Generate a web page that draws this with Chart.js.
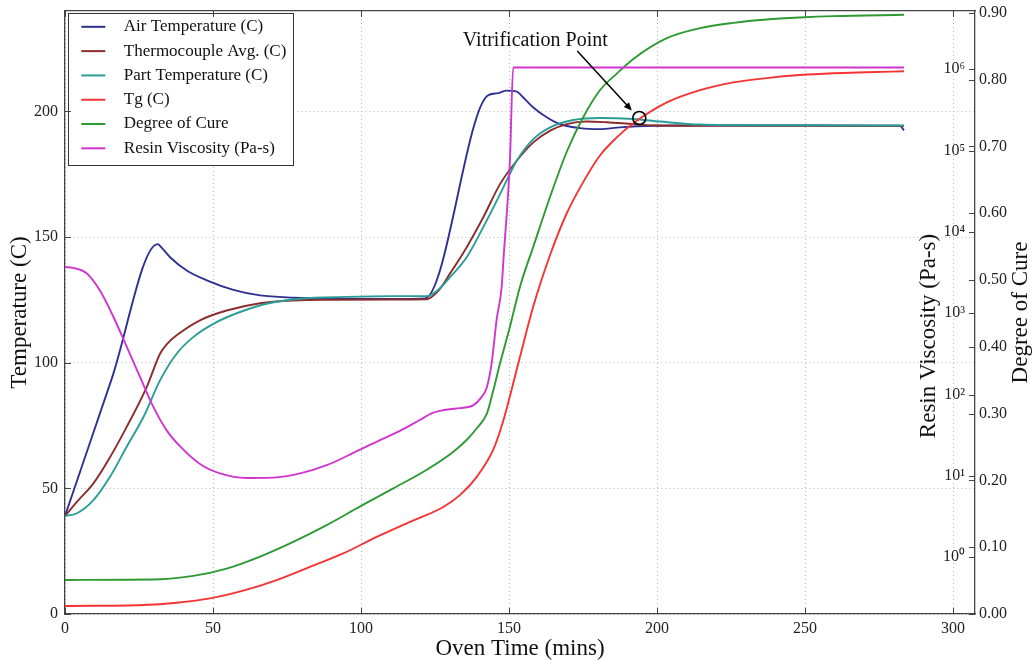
<!DOCTYPE html>
<html><head><meta charset="utf-8">
<script src="https://cdn.jsdelivr.net/npm/chart.js@4.4.0/dist/chart.umd.min.js"></script>
<style>html,body{margin:0;padding:0;background:#fff;}#wrap{width:1036px;height:660px;}</style>
</head><body><div id="wrap"><canvas id="c" width="1036" height="660"></canvas></div>
<script>
// ---- data ----
const AIR_TIME = [0, 15.6, 31.3, 33, 35.5, 41.1, 47.9, 56.9, 65.9, 77.1, 90, 110, 121.6, 142.7, 145.8, 149.2, 152.4, 154.8, 158.2, 162.7, 167.2, 174, 180.7, 187.5, 198.8, 220, 250, 282, 283.4];
const AIR_TEMP = [39, 93, 147.2, 145.3, 142, 136.7, 132.8, 129, 126.8, 125.9, 125.5, 125.4, 125.6, 206.3, 207.2, 208.3, 208, 205.6, 201.6, 197.7, 195, 193.4, 193, 193.7, 194.3, 194.5, 194.4, 194.3, 192.5];

const TC_TIME = [0, 4, 9.6, 15, 20.8, 27.6, 32.1, 34.5, 37.7, 45.6, 54.6, 65.9, 77.1, 90, 110, 122.2, 126, 130, 135.7, 141.3, 147, 152.6, 158.2, 163.9, 169.5, 176.2, 183, 192, 201, 215, 250, 283.4];
const TC_TEMP = [39, 44.6, 52, 62, 74.4, 90.3, 103.6, 107.5, 110.9, 116.9, 120.8, 123.7, 124.8, 125.1, 125.2, 125.3, 128.5, 135.4, 146, 157.9, 171.2, 180.4, 187.7, 192.4, 195, 196, 195.7, 195, 194.4, 194.3, 194.3, 194.2];

const PART_TIME = [0, 3.9, 9.6, 15.2, 20.8, 26.5, 32.1, 37.7, 43.3, 50.1, 59.1, 68.1, 79.4, 95, 110, 122.2, 126, 130, 135.7, 141.3, 147, 152.6, 158.2, 163.9, 171.7, 180.7, 192, 201, 214.5, 240, 283.4];
const PART_TEMP = [39, 40, 45.3, 54.6, 66.5, 78.4, 93, 103.6, 110.2, 115.5, 120.2, 123.5, 125.5, 126.2, 126.5, 126.5, 129, 134, 142, 154, 167.2, 180.4, 189, 193.7, 196.6, 197.4, 197, 196, 194.8, 194.5, 194.4];

const TG_TIME = [0, 26.5, 37.7, 49, 60.2, 71.5, 82.8, 94, 105.3, 116.6, 127.8, 133.4, 139.1, 144.7, 148.1, 153.4, 158.2, 163.9, 169.5, 175.1, 180.7, 186.4, 192, 203.3, 214.5, 225.8, 237, 248.3, 259.6, 270.8, 283.4];
const TG_TEMP = [3.2, 3.6, 4.5, 6.2, 9.3, 13.5, 18.8, 24.1, 30.7, 36.7, 42.6, 47.3, 54.6, 65.5, 77.1, 101, 122.5, 143, 159.5, 172, 182.5, 189.7, 195.3, 203.6, 208.5, 211.6, 213.3, 214.5, 215.2, 215.6, 216];

const CURE_TIME = [0, 32.1, 43.3, 54.6, 65.9, 77.1, 88.4, 99.7, 110.9, 122.2, 131.2, 136, 139.1, 142.5, 144.7, 147, 150.3, 153.7, 158.2, 163.9, 169.5, 175.1, 180.7, 186.4, 192, 203.3, 214.5, 225.8, 237, 248.3, 259.6, 283.4];
const CURE_DEGREE = [0.051, 0.052, 0.057, 0.068, 0.086, 0.108, 0.133, 0.161, 0.188, 0.216, 0.243, 0.262, 0.278, 0.30, 0.335, 0.376, 0.43, 0.49, 0.55, 0.625, 0.692, 0.744, 0.784, 0.809, 0.831, 0.862, 0.877, 0.885, 0.890, 0.893, 0.895, 0.897];

const VISC_TIME = [0, 2.8, 7.3, 11.8, 16.3, 20.8, 25.3, 29.8, 34.4, 38.9, 45.6, 52.4, 61.4, 70.4, 79.4, 88.4, 97.4, 106.4, 113, 120, 124, 126.7, 130, 133.4, 138, 140.5, 142.5, 144.1, 145.8, 147.5, 148.1, 150.3, 151.4, 152.2, 283.4];
const VISC_PAS = [3700, 3600, 3100, 1900, 910, 390, 166, 71, 36, 23, 14, 10.7, 9.4, 9.5, 10.7, 13.5, 19.1, 27.5, 35.5, 49, 59, 63, 66, 68, 74, 91, 123, 240, 830, 2100, 4500, 76000, 1050000, 1050000, 1050000];

const VITRIFICATION_TIME = 194;
const VITRIFICATION_TEMP = 197.4;

const X_TICKS = [0, 50, 100, 150, 200, 250, 300];
const TEMP_TICKS = [0, 50, 100, 150, 200];
const CURE_TICKS = [0, 0.1, 0.2, 0.3, 0.4, 0.5, 0.6, 0.7, 0.8, 0.9];
const VISC_TICKS = [1, 10, 100, 1000, 10000, 100000, 1000000];

const SERIES_LABELS = ['Air Temperature (C)', 'Thermocouple Avg. (C)', 'Part Temperature (C)', 'Tg (C)', 'Degree of Cure', 'Resin Viscosity (Pa-s)'];

// ---- styling ----
const FONT = "'Liberation Serif', 'Times New Roman', serif";
const COLORS = ['#2e3192', '#8c2d2d', '#2a9d98', '#f43434', '#2e9a32', '#d035d0'];
const GRID_COLOR = '#b9b9b9';
const AXIS_COLOR = '#444';
const LEGEND_FONT_SIZE = 17;
const LEGEND_PAD = 7.3;
const SUP = {'0':'\u2070','1':'\u00b9','2':'\u00b2','3':'\u00b3','4':'\u2074','5':'\u2075','6':'\u2076','7':'\u2077','8':'\u2078','9':'\u2079','-':'\u207b'};

function pts(xs, ys) { return xs.map((x, i) => ({x: x, y: ys[i]})); }
function lineSample(color) {
  const c = document.createElement('canvas');
  c.width = 43; c.height = 4;
  const g = c.getContext('2d');
  g.strokeStyle = color; g.lineWidth = 2;
  g.beginPath(); g.moveTo(9, 2); g.lineTo(33, 2); g.stroke();
  return c;
}
function noPad(s) { s.paddingTop = 0; s.paddingBottom = 0; s.paddingLeft = 0; s.paddingRight = 0; }

const seriesData = [
  [AIR_TIME, AIR_TEMP, 'y'],
  [TC_TIME, TC_TEMP, 'y'],
  [PART_TIME, PART_TEMP, 'y'],
  [TG_TIME, TG_TEMP, 'y'],
  [CURE_TIME, CURE_DEGREE, 'yCure'],
  [VISC_TIME, VISC_PAS, 'yVisc']
];

const datasets = seriesData.map((s, i) => ({
  label: SERIES_LABELS[i],
  data: pts(s[0], s[1]),
  yAxisID: s[2],
  xAxisID: 'x',
  borderColor: COLORS[i],
  backgroundColor: COLORS[i],
  borderWidth: 1.9,
  pointRadius: 0,
  fill: false,
  cubicInterpolationMode: 'monotone',
  order: 10 - i
}));
datasets.push({
  label: 'Vitrification Point',
  data: [{x: VITRIFICATION_TIME, y: VITRIFICATION_TEMP}],
  yAxisID: 'y', xAxisID: 'x',
  showLine: false,
  pointRadius: 6.5,
  pointBorderWidth: 1.6,
  borderColor: '#000',
  pointBorderColor: '#000',
  pointBackgroundColor: 'rgba(0,0,0,0)',
  backgroundColor: 'rgba(0,0,0,0)',
  order: -1
});

const tickFont = {family: FONT, size: 16};
const titleFont = {family: FONT, size: 23, lineHeight: 1.2};

const decor = {
  id: 'decor',
  afterLayout(chart) {
    const lg = chart.legend, ca = chart.chartArea;
    if (!lg) return;
    lg.left = ca.left; lg.top = ca.top; lg.width = 240; lg.right = ca.left + 240;
    lg.height = ca.bottom - ca.top; lg.bottom = ca.bottom;
    if (!lg._boxPatched) {
      const orig = lg.draw;
      lg.draw = function () {
        const ctx = this.ctx, items = this.legendItems || [];
        if (items.length) {
          ctx.save();
          ctx.font = LEGEND_FONT_SIZE + 'px ' + FONT;
          let maxW = 0; items.forEach(it => { maxW = Math.max(maxW, ctx.measureText(it.text).width); });
          const textStart = this.left + LEGEND_PAD + 43 + LEGEND_FONT_SIZE / 2;
          const lastCenter = this.top + LEGEND_PAD + LEGEND_FONT_SIZE / 2 + (items.length - 1) * (LEGEND_FONT_SIZE + LEGEND_PAD);
          const x0 = Math.round(chart.chartArea.left + 3) + 0.5;
          const y0 = Math.round(chart.chartArea.top + 1.5) + 0.5;
          const x1 = Math.round(textStart + maxW + 7) + 0.5;
          const y1 = Math.round(lastCenter + 17) + 0.5;
          ctx.fillStyle = '#fff';
          ctx.fillRect(x0, y0, x1 - x0, y1 - y0);
          ctx.strokeStyle = '#333'; ctx.lineWidth = 1;
          ctx.strokeRect(x0, y0, x1 - x0, y1 - y0);
          ctx.restore();
        }
        orig.apply(this, arguments);
      };
      lg._boxPatched = true;
    }
  },
  beforeDatasetsDraw(chart) {
    // inward tick marks on the frame, placed through the scales
    const {ctx, chartArea: ca} = chart;
    const sx = chart.scales.x, sy = chart.scales.y, sc = chart.scales.yCure, sv = chart.scales.yVisc;
    ctx.save();
    ctx.strokeStyle = AXIS_COLOR; ctx.lineWidth = 1;
    ctx.beginPath();
    X_TICKS.forEach(v => { const p = Math.round(sx.getPixelForValue(v)) + 0.5;
      ctx.moveTo(p, ca.bottom); ctx.lineTo(p, ca.bottom - 6); ctx.moveTo(p, ca.top); ctx.lineTo(p, ca.top + 6); });
    TEMP_TICKS.forEach(v => { const p = Math.round(sy.getPixelForValue(v)) + 0.5;
      ctx.moveTo(ca.left, p); ctx.lineTo(ca.left + 6, p); });
    CURE_TICKS.forEach(v => { const p = Math.round(sc.getPixelForValue(v)) + 0.5;
      ctx.moveTo(ca.right, p); ctx.lineTo(ca.right - 6, p); });
    VISC_TICKS.forEach(v => { const p = Math.round(sv.getPixelForValue(v)) + 0.5;
      ctx.moveTo(ca.right, p); ctx.lineTo(ca.right - 6, p); });
    ctx.stroke();
    ctx.restore();
  },
  afterDatasetsDraw(chart) {
    const {ctx} = chart; const sx = chart.scales.x, sy = chart.scales.y;
    const cx = sx.getPixelForValue(VITRIFICATION_TIME), cy = sy.getPixelForValue(VITRIFICATION_TEMP);
    const ax0 = cx - 62, ay0 = cy - 67, ax1 = cx - 7.5, ay1 = cy - 7.5;
    const ang = Math.atan2(ay1 - ay0, ax1 - ax0);
    ctx.save();
    ctx.strokeStyle = '#000'; ctx.fillStyle = '#000'; ctx.lineWidth = 1.5;
    ctx.beginPath(); ctx.moveTo(ax0, ay0);
    ctx.lineTo(ax1 - 6 * Math.cos(ang), ay1 - 6 * Math.sin(ang)); ctx.stroke();
    ctx.beginPath();
    ctx.moveTo(ax1, ay1);
    ctx.lineTo(ax1 - 8 * Math.cos(ang) + 3.5 * Math.sin(ang), ay1 - 8 * Math.sin(ang) - 3.5 * Math.cos(ang));
    ctx.lineTo(ax1 - 8 * Math.cos(ang) - 3.5 * Math.sin(ang), ay1 - 8 * Math.sin(ang) + 3.5 * Math.cos(ang));
    ctx.closePath(); ctx.fill();
    ctx.font = '20px ' + FONT; ctx.textAlign = 'center'; ctx.textBaseline = 'middle';
    ctx.fillStyle = '#111';
    ctx.fillText('Vitrification Point', cx - 104, cy - 77);
    ctx.restore();
  },
  afterDraw(chart) {
    const {ctx, chartArea} = chart;
    const cure = chart.scales.yCure;
    ctx.save();
    ctx.font = '23px ' + FONT; ctx.fillStyle = '#111';
    ctx.textAlign = 'center'; ctx.textBaseline = 'middle';
    ctx.translate(chartArea.right - 46, 336); ctx.rotate(-Math.PI / 2);
    ctx.fillText('Resin Viscosity (Pa-s)', 0, 0);
    ctx.restore();
    ctx.save();
    ctx.font = '23px ' + FONT; ctx.fillStyle = '#111';
    ctx.textAlign = 'center'; ctx.textBaseline = 'middle';
    ctx.translate(cure.right - 15, (chartArea.top + chartArea.bottom) / 2); ctx.rotate(-Math.PI / 2);
    ctx.fillText('Degree of Cure', 0, 0);
    ctx.restore();
  }
};

new Chart(document.getElementById('c'), {
  type: 'line',
  data: {datasets: datasets},
  plugins: [decor],
  options: {
    responsive: false,
    devicePixelRatio: 1,
    animation: false,
    layout: {padding: {top: 11, left: 0, right: 0, bottom: 0}},
    plugins: {
      tooltip: {enabled: false},
      legend: {
        position: 'chartArea',
        align: 'start',
        labels: {
          usePointStyle: true,
          pointStyleWidth: 43,
          padding: LEGEND_PAD,
          color: '#111',
          font: {family: FONT, size: LEGEND_FONT_SIZE},
          generateLabels(chart) {
            const items = Chart.defaults.plugins.legend.labels.generateLabels(chart)
              .filter(it => it.datasetIndex < SERIES_LABELS.length)
              .sort((a, b) => a.datasetIndex - b.datasetIndex);
            items.forEach(it => { it.pointStyle = lineSample(it.strokeStyle); });
            return items;
          }
        }
      }
    },
    scales: {
      x: {
        type: 'linear', position: 'bottom', min: 0, max: 307.4,
        afterBuildTicks: s => { s.ticks = X_TICKS.map(v => ({value: v})); },
        afterFit: s => { s.height = 46; noPad(s); },
        ticks: {font: tickFont, color: '#222', padding: 5, maxRotation: 0},
        grid: {color: GRID_COLOR, lineWidth: 1, drawTicks: false},
        border: {display: true, color: AXIS_COLOR, width: 1.3, dash: [1, 3]},
        title: {display: true, text: 'Oven Time (mins)', color: '#111', font: {family: FONT, size: 23, lineHeight: 1.0}, padding: {top: 0, bottom: 0}}
      },
      xTop: {
        type: 'linear', position: 'top', min: 0, max: 307.4,
        afterFit: s => { s.height = 0; noPad(s); },
        ticks: {display: false},
        grid: {drawOnChartArea: false, drawTicks: false},
        border: {display: true, color: AXIS_COLOR, width: 1.3}
      },
      y: {
        type: 'linear', position: 'left', min: 0, max: 240,
        afterBuildTicks: s => { s.ticks = TEMP_TICKS.map(v => ({value: v})); },
        afterFit: s => { s.width = 65; noPad(s); },
        ticks: {font: tickFont, color: '#222', padding: 7},
        grid: {color: GRID_COLOR, lineWidth: 1, drawTicks: false},
        border: {display: true, color: AXIS_COLOR, width: 1.3, dash: [1, 3]},
        title: {display: true, text: 'Temperature (C)', color: '#111', font: titleFont, padding: {top: 6, bottom: 0}}
      },
      yVisc: {
        type: 'logarithmic', position: 'right', min: 0.2, max: 5.2e6,
        afterBuildTicks: s => { s.ticks = VISC_TICKS.map(v => ({value: v})); },
        afterFit: s => { s.width = 0; noPad(s); },
        ticks: {
          mirror: true, padding: -10, font: tickFont, color: '#222',
          callback: v => '10' + String(Math.round(Math.log10(v))).split('').map(c => SUP[c]).join('')
        },
        grid: {drawOnChartArea: false, drawTicks: false},
        border: {display: false}
      },
      yCure: {
        type: 'linear', position: 'right', min: 0, max: 0.9027,
        afterBuildTicks: s => { s.ticks = CURE_TICKS.map(v => ({value: v})); },
        afterFit: s => { s.width = 61; noPad(s); },
        ticks: {font: tickFont, color: '#222', padding: 4, callback: v => Number(v).toFixed(2)},
        grid: {drawOnChartArea: false, drawTicks: false},
        border: {display: true, color: AXIS_COLOR, width: 1.3}
      }
    }
  }
});
</script>
</body></html>
